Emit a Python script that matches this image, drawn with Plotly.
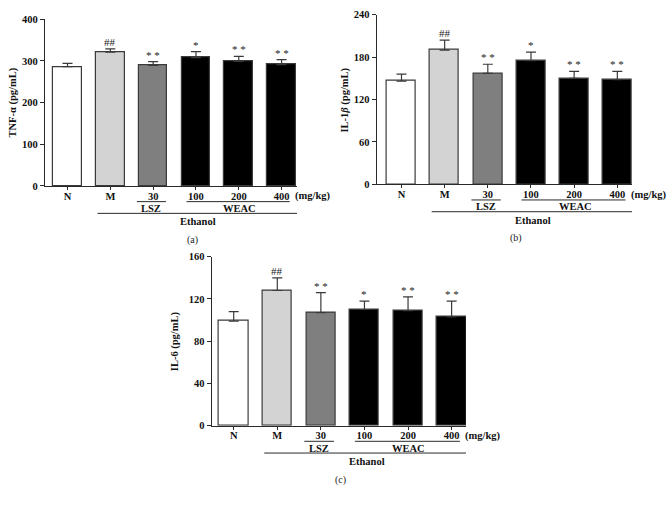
import plotly.graph_objects as go

W, H = 672, 506

categories = ["N", "M", "30", "100", "200", "400"]

tnf_values = [286, 321, 289, 308, 299, 291]
tnf_errors = [8, 8, 9, 14, 12, 12]

il1b_values = [146, 190, 157, 175, 150, 148]
il1b_errors = [10, 14, 13, 12, 10, 12]

il6_values = [99, 128, 107, 110, 109, 103]
il6_errors = [9, 12, 19, 8, 13, 15]

sig_labels = ["", "##", "* *", "*", "* *", "* *"]

bar_fills = ["#ffffff", "#d3d3d3", "#7f7f7f", "#000000", "#000000", "#000000"]
edge = "#3a3a3a"
axis_col = "#2a2a2a"
FONT = "Liberation Serif"

panels = [
    dict(vals=tnf_values, errs=tnf_errors, x0=45, x1=297, yb=185, yt=14.5,
         ymax=400, dtick=100, xr=[-0.526, 5.36],
         title="TNF-α (pg/mL)", title_x=13, cap="(a)", cap_x=192),
    dict(vals=il1b_values, errs=il1b_errors, x0=376.7, x1=632, yb=183.3, yt=10,
         ymax=240, dtick=60, xr=[-0.574, 5.34],
         title="IL-1<i>β</i> (pg/mL)", title_x=345, cap="(b)", cap_x=516),
    dict(vals=il6_values, errs=il6_errors, x0=211.7, x1=466, yb=430, yt=257.3,
         ymax=160, dtick=40, xr=[-0.505, 5.33],
         title="IL-6 (pg/mL)", title_x=175, cap="(c)", cap_x=340),
]

fig = go.Figure()
annotations = []
shapes = []

bold = dict(family=FONT, size=10.5, color="#111", weight="bold")

for i, p in enumerate(panels):
    n = "" if i == 0 else str(i + 1)
    xa, ya = "x" + n, "y" + n
    xdom = [p["x0"] / W, p["x1"] / W]
    ybot = 1 - p["yb"] / H
    ydom = [ybot, 1 - p["yt"] / H]
    fig.add_trace(go.Bar(
        x=list(range(len(categories))), y=p["vals"],
        width=0.67,
        marker=dict(color=bar_fills, line=dict(color=edge, width=1.2)),
        error_y=dict(type="data", array=p["errs"], arrayminus=[0] * len(categories),
                     symmetric=False, color=edge, thickness=1.2, width=5),
        xaxis=xa, yaxis=ya, showlegend=False, hoverinfo="skip",
    ))
    fig.layout["xaxis" + n] = dict(
        domain=xdom, range=p["xr"], anchor=ya,
        tickmode="array", tickvals=list(range(len(categories))), ticktext=categories,
        ticks="outside", ticklen=3, tickwidth=1, tickcolor=axis_col,
        ticklabelstandoff=-3,
        showline=True, linecolor=axis_col, linewidth=1.2,
        showgrid=False, zeroline=False,
        tickfont=bold,
    )
    fig.layout["yaxis" + n] = dict(
        domain=ydom, range=[0, p["ymax"]], anchor=xa, dtick=p["dtick"],
        ticks="outside", ticklen=4, tickwidth=1, tickcolor=axis_col,
        showline=True, linecolor=axis_col, linewidth=1.2,
        showgrid=False, zeroline=False,
        tickfont=bold, tickformat="d",
    )
    for k, s in enumerate(sig_labels):
        if s:
            annotations.append(dict(
                x=k, y=p["vals"][k] + p["errs"][k], xref=xa, yref=ya,
                text=s,
                showarrow=False, yanchor="bottom", yshift=-1,
                font=dict(family=FONT, size=11, color="#222")))
    annotations.append(dict(
        x=p["title_x"] / W, y=(ydom[0] + ydom[1]) / 2, xref="paper", yref="paper",
        text=p["title"], textangle=-90, showarrow=False,
        xanchor="center", yanchor="middle",
        font=bold))
    annotations.append(dict(
        x=5.27, y=ybot, xref=xa, yref="paper", text="(mg/kg)",
        xanchor="left", yanchor="middle", yshift=-10.5, showarrow=False,
        font=bold))

    def hline(xs, xe, off):
        yy = ybot - off / H
        shapes.append(dict(type="line", xref=xa, yref="paper", x0=xs, x1=xe,
                           y0=yy, y1=yy, line=dict(color=axis_col, width=1)))
    hline(1.62, 2.30, 16)
    hline(2.78, 5.19, 16)
    hline(0.70, 5.48, 28)
    for txt, xx, off in [("LSZ", 1.96, 22.5), ("WEAC", 4.02, 22.5), ("Ethanol", 3.05, 36)]:
        annotations.append(dict(
            x=xx, y=ybot, xref=xa, yref="paper", text=txt,
            xanchor="center", yanchor="middle", yshift=-off, showarrow=False,
            font=bold))
    annotations.append(dict(
        x=p["cap_x"] / W, y=ybot, xref="paper", yref="paper", text=p["cap"],
        xanchor="center", yanchor="middle", yshift=-54, showarrow=False,
        font=dict(family=FONT, size=10, color="#222")))

fig.update_layout(
    width=W, height=H, margin=dict(l=0, r=0, t=0, b=0),
    paper_bgcolor="white", plot_bgcolor="white",
    annotations=annotations, shapes=shapes, bargap=0,
)

fig.write_html("out.html", config={"displayModeBar": False},
               post_script="document.body.style.margin='0';")
